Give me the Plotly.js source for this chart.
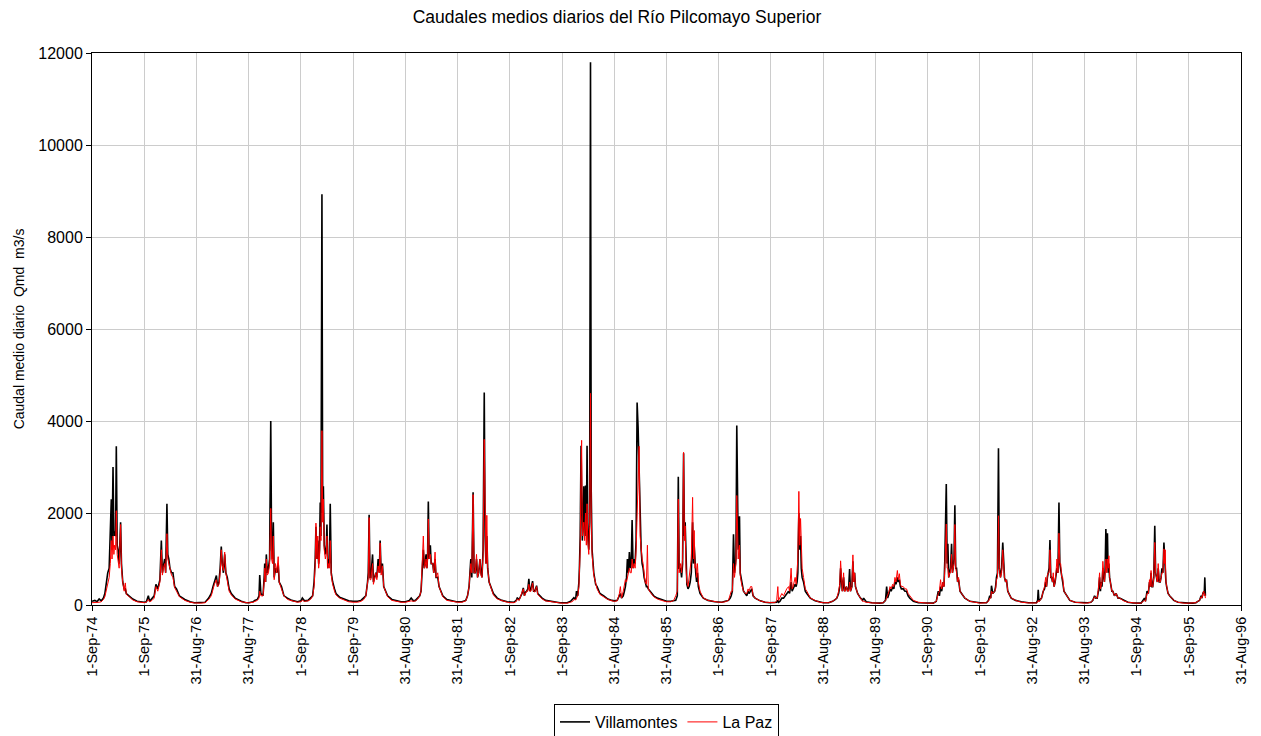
<!DOCTYPE html>
<html>
<head>
<meta charset="utf-8">
<script src="https://cdn.plot.ly/plotly-3.0.1.min.js"></script>
<style>html,body{margin:0;padding:0;background:#fff;}#chart{width:1261px;height:736px;}</style>
</head>
<body>
<div id="chart"></div>
<script>
const dates = [
  // 1974-75
  '1974-09-01','1974-09-21','1974-10-06','1974-10-21','1974-11-05','1974-11-20','1974-11-30','1974-12-10','1974-12-20','1974-12-30','1975-01-07','1975-01-14','1975-01-19','1975-01-26','1975-02-01','1975-02-06','1975-02-13','1975-02-18','1975-02-24','1975-03-02','1975-03-10','1975-03-20','1975-03-26','1975-04-04','1975-04-14','1975-04-22','1975-04-29','1975-05-19','1975-06-13','1975-07-13','1975-08-12',
  // 1975-76
  '1975-09-01','1975-09-16','1975-09-30','1975-10-09','1975-10-26','1975-11-10','1975-11-22','1975-12-05','1975-12-20','1975-12-30','1976-01-06','1976-01-14','1976-01-22','1976-01-29','1976-02-07','1976-02-13','1976-02-20','1976-02-28','1976-03-10','1976-03-20','1976-04-01','1976-04-14','1976-05-04','1976-06-11','1976-07-18','1976-08-17',
  // 1976-77
  '1976-09-01','1976-10-01','1976-10-31','1976-11-25','1976-12-13','1976-12-25','1977-01-04','1977-01-18','1977-01-26','1977-02-05','1977-02-13','1977-02-21','1977-02-28','1977-03-08','1977-03-17','1977-03-25','1977-04-04','1977-04-17','1977-05-02','1977-05-29','1977-07-11','1977-08-12',
  // 1977-78
  '1977-09-01','1977-10-01','1977-10-13','1977-10-31','1977-11-12','1977-11-17','1977-11-25','1977-12-10','1977-12-18','1977-12-22','1977-12-28','1978-01-02','1978-01-09','1978-01-17','1978-01-25','1978-02-02','1978-02-08','1978-02-14','1978-02-20','1978-02-26','1978-03-07','1978-03-16','1978-03-26','1978-04-02','1978-04-18','1978-05-05','1978-05-30','1978-06-29','1978-08-08',
  // 1978-79
  '1978-09-01','1978-09-11','1978-09-26','1978-10-21','1978-11-10','1978-11-22','1978-12-02','1978-12-10','1978-12-15','1978-12-22','1978-12-28','1979-01-03','1979-01-09','1979-01-14','1979-01-19','1979-01-26','1979-01-31','1979-02-05','1979-02-11','1979-02-19','1979-02-25','1979-03-02','1979-03-08','1979-03-14','1979-03-19','1979-03-25','1979-04-01','1979-04-11','1979-04-24','1979-05-04','1979-05-29','1979-07-01','1979-08-01',
  // 1979-80
  '1979-09-01','1979-10-02','1979-10-26','1979-11-15','1979-11-29','1979-12-11','1979-12-16','1979-12-22','1979-12-28','1980-01-03','1980-01-09','1980-01-15','1980-01-21','1980-01-29','1980-02-07','1980-02-14','1980-02-23','1980-03-02','1980-03-08','1980-03-15','1980-03-24','1980-04-02','1980-04-14','1980-04-29','1980-05-29','1980-06-28','1980-08-01',
  // 1980-81
  '1980-09-01','1980-09-28','1980-10-11','1980-10-26','1980-11-10','1980-11-26','1980-12-10','1980-12-19','1980-12-28','1981-01-04','1981-01-11','1981-01-17','1981-01-23','1981-01-29','1981-02-03','1981-02-08','1981-02-14','1981-02-22','1981-02-28','1981-03-11','1981-03-18','1981-03-27','1981-04-03','1981-04-15','1981-04-24','1981-05-20','1981-06-18','1981-07-29','1981-08-22',
  // 1981-82
  '1981-09-01','1981-10-01','1981-10-28','1981-11-09','1981-11-20','1981-12-02','1981-12-09','1981-12-18','1981-12-25','1982-01-02','1982-01-11','1982-01-18','1982-01-26','1982-02-04','1982-02-11','1982-02-18','1982-02-26','1982-03-06','1982-03-12','1982-03-18','1982-03-24','1982-03-30','1982-04-09','1982-04-21','1982-05-09','1982-06-05','1982-07-07','1982-08-14',
  // 1982-83
  '1982-09-01','1982-09-30','1982-10-16','1982-10-23','1982-11-05','1982-11-15','1982-11-25','1982-12-04','1982-12-12','1982-12-20','1982-12-28','1983-01-05','1983-01-12','1983-01-19','1983-01-27','1983-02-07','1983-02-14','1983-02-23','1983-03-07','1983-03-15','1983-03-30','1983-04-15','1983-05-09','1983-06-12','1983-07-18','1983-08-17',
  // 1983-84
  '1983-09-01','1983-10-07','1983-10-31','1983-11-15','1983-11-23','1983-12-05','1983-12-11','1983-12-20','1983-12-28','1984-01-01','1984-01-06','1984-01-12','1984-01-16','1984-01-21','1984-01-26','1984-01-31','1984-02-06','1984-02-12','1984-02-18','1984-02-23','1984-02-28','1984-03-06','1984-03-12','1984-03-18','1984-03-23','1984-03-29','1984-04-10','1984-04-23','1984-05-03','1984-05-23','1984-06-19','1984-07-17','1984-08-16',
  // 1984-85
  '1984-09-01','1984-09-21','1984-10-06','1984-10-13','1984-10-21','1984-11-02','1984-11-10','1984-11-17','1984-11-25','1984-12-01','1984-12-08','1984-12-15','1984-12-22','1984-12-28','1985-01-03','1985-01-10','1985-01-17','1985-01-24','1985-01-31','1985-02-07','1985-02-14','1985-02-21','1985-02-28','1985-03-07','1985-03-14','1985-03-21','1985-03-28','1985-04-04','1985-04-13','1985-04-20','1985-04-26','1985-05-09','1985-06-03','1985-06-28','1985-07-28','1985-08-22',
  // 1985-86
  '1985-09-01','1985-09-30','1985-10-21','1985-11-04','1985-11-15','1985-11-22','1985-11-28','1985-12-08','1985-12-15','1985-12-22','1985-12-29','1986-01-04','1986-01-09','1986-01-15','1986-01-21','1986-01-29','1986-02-06','1986-02-13','1986-02-21','1986-03-02','1986-03-08','1986-03-13','1986-03-19','1986-03-24','1986-03-30','1986-04-05','1986-04-11','1986-04-23','1986-05-16','1986-06-18','1986-08-04',
  // 1986-87
  '1986-09-01','1986-09-23','1986-10-16','1986-11-08','1986-11-20','1986-11-27','1986-12-05','1986-12-13','1986-12-20','1986-12-25','1986-12-30','1987-01-05','1987-01-10','1987-01-15','1987-01-19','1987-01-24','1987-01-29','1987-02-08','1987-02-21','1987-03-05','1987-03-16','1987-03-25','1987-04-01','1987-04-11','1987-04-20','1987-04-29','1987-05-13','1987-06-18','1987-07-22','1987-08-22',
  // 1987-88
  '1987-09-01','1987-09-30','1987-10-11','1987-10-19','1987-10-24','1987-11-02','1987-11-16','1987-11-28','1987-12-09','1987-12-20','1988-01-02','1988-01-09','1988-01-20','1988-01-27','1988-02-03','1988-02-10','1988-02-17','1988-02-24','1988-03-02','1988-03-07','1988-03-14','1988-03-20','1988-03-26','1988-03-31','1988-04-06','1988-04-16','1988-04-28','1988-05-09','1988-06-02','1988-07-06','1988-08-07',
  // 1988-89
  '1988-09-01','1988-10-08','1988-11-05','1988-11-25','1988-12-05','1988-12-17','1988-12-25','1988-12-31','1989-01-06','1989-01-12','1989-01-21','1989-01-27','1989-02-03','1989-02-10','1989-02-18','1989-02-25','1989-03-04','1989-03-10','1989-03-20','1989-03-27','1989-04-02','1989-04-08','1989-04-14','1989-04-29','1989-05-19','1989-06-03','1989-06-10','1989-06-28','1989-08-07',
  // 1989-90
  '1989-09-01','1989-10-01','1989-10-25','1989-11-10','1989-11-18','1989-11-25','1989-12-05','1989-12-11','1989-12-20','1989-12-30','1990-01-07','1990-01-15','1990-01-22','1990-02-01','1990-02-08','1990-02-15','1990-02-22','1990-03-01','1990-03-14','1990-03-26','1990-04-06','1990-04-17','1990-04-29','1990-05-24','1990-06-28','1990-08-07',
  // 1990-91
  '1990-09-01','1990-10-10','1990-10-31','1990-11-14','1990-11-22','1990-11-30','1990-12-08','1990-12-18','1990-12-24','1990-12-30','1991-01-09','1991-01-15','1991-01-20','1991-01-26','1991-02-01','1991-02-08','1991-02-15','1991-02-21','1991-02-26','1991-03-04','1991-03-10','1991-03-16','1991-03-22','1991-03-29','1991-04-05','1991-04-15','1991-04-26','1991-05-19','1991-06-23','1991-08-07',
  // 1991-92
  '1991-09-01','1991-10-17','1991-10-31','1991-11-09','1991-11-16','1991-11-21','1991-11-30','1991-12-14','1991-12-20','1991-12-26','1992-01-02','1992-01-09','1992-01-15','1992-01-23','1992-01-31','1992-02-08','1992-02-14','1992-02-20','1992-02-28','1992-03-05','1992-03-14','1992-03-24','1992-04-07','1992-05-08','1992-06-17','1992-08-06',
  // 1992-93
  '1992-09-01','1992-10-01','1992-10-09','1992-10-13','1992-10-18','1992-11-05','1992-11-17','1992-11-26','1992-12-04','1992-12-10','1992-12-16','1992-12-22','1992-12-28','1993-01-03','1993-01-09','1993-01-15','1993-01-21','1993-01-26','1993-02-01','1993-02-08','1993-02-14','1993-02-21','1993-02-28','1993-03-07','1993-03-13','1993-03-19','1993-03-26','1993-04-02','1993-04-11','1993-04-29','1993-05-22','1993-06-28','1993-08-07',
  // 1993-94
  '1993-09-01','1993-09-25','1993-10-16','1993-10-30','1993-11-11','1993-11-20','1993-11-29','1993-12-08','1993-12-16','1993-12-22','1993-12-27','1994-01-02','1994-01-08','1994-01-14','1994-01-19','1994-01-24','1994-01-29','1994-02-04','1994-02-09','1994-02-14','1994-02-19','1994-02-24','1994-03-04','1994-03-12','1994-03-19','1994-03-30','1994-04-11','1994-04-24','1994-05-05','1994-06-03','1994-07-02','1994-08-07',
  // 1994-95
  '1994-09-01','1994-10-02','1994-10-26','1994-11-02','1994-11-13','1994-11-22','1994-11-30','1994-12-05','1994-12-11','1994-12-17','1994-12-23','1994-12-30','1995-01-06','1995-01-12','1995-01-18','1995-01-24','1995-01-30','1995-02-06','1995-02-13','1995-02-19','1995-02-25','1995-03-04','1995-03-11','1995-03-16','1995-03-20','1995-03-25','1995-03-30','1995-04-09','1995-04-20','1995-05-19','1995-06-17','1995-07-28',
  // 1995-96
  '1995-09-01','1995-09-29','1995-10-21','1995-11-03','1995-11-15','1995-11-26','1995-12-02','1995-12-08','1995-12-15','1995-12-18','1995-12-22','1995-12-26'
];

// Villamontes daily mean flow, m3/s
const villamontes = [
  80,100,70,130,90,150,250,500,700,800,1400,2300,1200,3000,1500,1600,1500,3450,1300,1200,900,1800,900,500,350,350,250,200,130,80,60,
  60,70,200,80,150,200,450,350,550,1400,700,900,1000,700,2200,1100,1000,800,700,700,400,350,200,120,70,50,
  50,45,60,150,250,400,500,640,400,500,800,1270,900,700,1100,700,600,350,250,150,80,50,
  50,70,100,120,200,650,250,200,600,900,500,1100,700,800,1000,4000,1200,1000,1800,600,800,700,900,500,400,200,150,100,70,
  90,150,90,100,150,200,500,1000,1700,1000,1400,900,1200,2230,1500,8930,2000,2580,1300,1100,1200,1750,800,1000,900,2200,700,500,350,250,170,120,90,
  80,80,100,150,200,500,700,1960,600,600,800,1100,500,600,700,600,1000,700,1400,700,900,400,300,200,120,90,70,
  70,100,150,90,100,150,200,300,700,1200,800,900,1100,800,1100,2250,1000,1300,900,900,700,1000,600,600,400,200,120,80,70,
  70,70,100,200,400,1000,600,2450,700,700,1000,600,700,1000,700,600,1200,4620,1500,900,1500,800,500,400,250,150,100,70,
  60,60,100,150,120,200,250,370,200,280,300,350,570,300,350,520,300,300,420,250,200,150,100,80,60,50,
  50,50,80,120,160,120,300,200,500,850,1500,3460,2000,1400,1800,2580,1500,2600,1500,3460,1500,1200,1800,11800,2500,1200,700,450,400,250,200,130,100,
  90,100,200,250,150,200,300,400,600,1000,700,1150,800,900,1850,800,1000,900,1400,4400,3850,2800,1600,1200,900,800,600,500,400,400,350,300,200,150,110,90,
  80,80,90,100,200,2790,800,800,600,900,3300,1500,1800,700,450,350,400,500,700,1800,900,1300,700,700,500,700,400,250,150,100,70,
  70,60,80,100,150,200,300,1540,700,800,1000,3900,1500,1200,1500,1930,700,500,300,250,200,300,250,300,350,200,150,90,60,50,
  50,50,60,100,60,80,150,150,200,250,300,250,500,300,350,400,450,400,500,700,2000,1200,1500,800,600,500,300,250,150,90,60,
  50,50,80,120,150,250,400,800,400,300,600,300,350,400,300,350,780,300,400,950,500,700,400,250,150,100,150,70,50,
  40,40,50,100,400,150,250,350,300,400,350,500,450,600,500,550,400,350,350,300,300,200,150,80,50,40,
  40,40,80,300,200,400,300,500,400,1000,2630,900,1330,600,700,800,1330,700,800,1000,2170,800,800,500,550,300,250,150,80,50,
  50,50,100,200,150,420,250,300,400,600,700,3410,800,600,800,1360,800,600,500,550,300,250,150,100,70,50,
  45,50,100,330,80,150,300,350,500,400,600,700,800,1410,600,600,500,600,400,500,600,800,700,2230,900,800,600,500,300,200,100,60,50,
  45,50,60,100,200,150,150,300,600,300,500,400,800,500,500,800,1650,800,1560,700,900,600,400,300,300,200,250,150,150,100,60,45,
  40,40,150,80,300,250,500,400,700,400,400,600,1720,700,600,500,800,500,500,600,800,700,1360,900,1000,500,400,250,200,100,60,45,
  40,40,50,80,100,200,150,250,300,250,600,200
];

// La Paz daily mean flow, m3/s
const laPaz = [
  50,50,50,60,70,120,180,300,450,600,900,1400,1000,1500,1100,1300,1200,2050,1100,1000,800,1750,800,500,300,480,230,180,110,70,50,
  50,60,120,70,100,150,400,300,500,1200,650,800,900,700,1550,1000,900,750,650,600,380,300,180,100,60,45,
  40,40,50,120,200,350,450,550,400,450,700,1200,850,750,1150,700,550,300,220,130,70,45,
  45,60,80,100,150,300,200,200,500,800,500,1000,650,700,900,2100,1000,900,1500,550,900,700,1050,500,350,200,120,90,60,
  70,100,80,90,130,200,400,900,1780,1000,1500,800,1000,1700,1400,3790,1800,2300,1200,1000,1100,1500,800,900,800,1400,650,450,300,220,150,100,70,
  60,60,80,120,200,450,600,1900,550,550,700,900,450,550,700,550,850,700,1350,650,850,400,280,180,100,80,60,
  60,80,90,80,90,130,200,300,900,1500,800,850,1000,800,1000,1870,1000,1100,900,900,700,1150,600,700,400,180,100,70,60,
  60,60,90,200,400,900,700,2400,700,700,1100,600,700,1000,650,600,1100,3600,1300,900,1950,800,500,400,220,130,90,60,
  50,50,80,130,100,200,250,350,200,250,300,300,450,300,300,480,300,280,400,230,180,130,90,70,50,45,
  40,40,60,80,120,110,150,200,400,700,1200,3000,3580,1500,1600,1800,1400,2000,1300,2200,1400,1100,1700,4600,2000,1100,650,450,350,230,180,120,90,
  80,90,250,400,150,300,400,550,500,600,650,800,700,700,1000,800,900,800,1200,2000,2500,3450,1500,1100,1000,900,700,500,450,1300,350,280,180,130,100,80,
  70,70,100,200,300,2300,700,900,700,1000,3320,1400,1720,800,500,400,600,700,1000,2340,1000,1620,800,900,600,900,500,300,150,100,70,
  60,60,70,100,200,300,300,900,600,700,900,2380,1300,1000,1200,1300,650,450,300,250,250,350,300,400,400,200,150,90,60,50,
  50,50,100,400,100,150,250,200,300,350,400,300,800,350,400,500,600,450,700,1000,2470,1300,1880,1000,800,600,350,300,150,100,60,
  50,50,80,120,150,300,450,960,400,300,700,300,300,400,300,300,500,300,400,1090,500,700,400,250,150,80,80,60,45,
  40,40,50,100,150,200,300,400,350,450,400,600,500,750,550,680,450,400,400,350,350,250,200,100,60,40,
  40,40,80,250,300,550,350,500,400,800,1760,800,800,600,700,700,1100,700,800,900,1750,800,700,500,600,300,250,150,80,50,
  40,50,80,150,150,300,250,300,350,550,600,1940,800,600,700,1200,700,600,500,550,300,250,150,100,60,45,
  40,45,60,100,70,150,300,400,600,400,650,700,700,1200,600,600,500,700,400,500,700,1000,700,1560,900,900,600,600,300,200,100,60,45,
  40,45,60,100,180,150,150,350,700,350,400,500,950,500,500,700,1000,700,1000,800,1070,600,400,300,300,200,250,150,150,90,60,40,
  40,40,100,80,250,250,550,400,750,400,400,600,1360,700,600,500,900,500,500,600,700,700,1220,900,1200,500,400,250,200,100,60,40,
  40,40,50,80,100,180,150,250,300,200,250,150
];

// Axis ticks
const xTickDates = ['1974-09-01','1975-09-01','1976-08-31','1977-08-31','1978-09-01','1979-09-01','1980-08-31','1981-08-31','1982-09-01','1983-09-01','1984-08-31','1985-08-31','1986-09-01','1987-09-01','1988-08-31','1989-08-31','1990-09-01','1991-09-01','1992-08-31','1993-08-31','1994-09-01','1995-09-01','1996-08-31'];
const xTickLabels = ['1-Sep-74','1-Sep-75','31-Aug-76','31-Aug-77','1-Sep-78','1-Sep-79','31-Aug-80','31-Aug-81','1-Sep-82','1-Sep-83','31-Aug-84','31-Aug-85','1-Sep-86','1-Sep-87','31-Aug-88','31-Aug-89','1-Sep-90','1-Sep-91','31-Aug-92','31-Aug-93','1-Sep-94','1-Sep-95','31-Aug-96'];
const seriesNames = ['Villamontes', 'La Paz'];

const traces = [
  {x: dates, y: villamontes, name: seriesNames[0], type: 'scatter', mode: 'lines',
   line: {color: '#000000', width: 1.6}},
  {x: dates, y: laPaz, name: seriesNames[1], type: 'scatter', mode: 'lines',
   line: {color: '#ff0000', width: 1}}
];

const font = 'Liberation Sans, Arial, Helvetica, sans-serif';
const layout = {
  width: 1261, height: 736,
  margin: {l: 92, r: 20, t: 53, b: 131},
  paper_bgcolor: '#ffffff', plot_bgcolor: '#ffffff',
  font: {family: font, size: 15, color: '#000000'},
  title: {text: 'Caudales medios diarios del Río Pilcomayo Superior',
          font: {family: font, size: 17.5, color: '#000000'},
          xref: 'container', x: 617/1261, xanchor: 'center',
          yref: 'container', y: 1 - 17/736, yanchor: 'middle'},
  xaxis: {type: 'date', range: ['1974-09-01', '1996-08-31'],
          tickmode: 'array', tickvals: xTickDates, ticktext: xTickLabels,
          tickangle: -90, ticks: 'outside', ticklen: 5, tickcolor: '#000000',
          showline: true, linecolor: '#000000', linewidth: 1, mirror: true,
          showgrid: true, gridcolor: '#cccccc', gridwidth: 1, zeroline: false,
          automargin: false,
          tickfont: {family: font, size: 14.5, color: '#000000'}},
  yaxis: {range: [0, 12000], dtick: 2000, tick0: 0, tickformat: 'd',
          ticks: 'outside', ticklen: 5, tickcolor: '#000000',
          showline: true, linecolor: '#000000', linewidth: 1, mirror: true,
          showgrid: true, gridcolor: '#cccccc', gridwidth: 1, zeroline: false,
          automargin: false,
          tickfont: {family: font, size: 16, color: '#000000'},
          title: {text: 'Caudal medio diario \u00a0Qmd \u00a0m3/s',
                  font: {family: font, size: 14, color: '#000000'}, standoff: 10}},
  showlegend: true,
  legend: {orientation: 'h', xref: 'paper', x: 0.5, xanchor: 'center',
           yref: 'container', y: 1 - 704/736, yanchor: 'top',
           bordercolor: '#000000', borderwidth: 1, bgcolor: '#ffffff',
           font: {family: font, size: 16, color: '#000000'}, traceorder: 'normal'}
};

Plotly.newPlot('chart', traces, layout, {displayModeBar: false, staticPlot: true});
</script>
</body>
</html>
